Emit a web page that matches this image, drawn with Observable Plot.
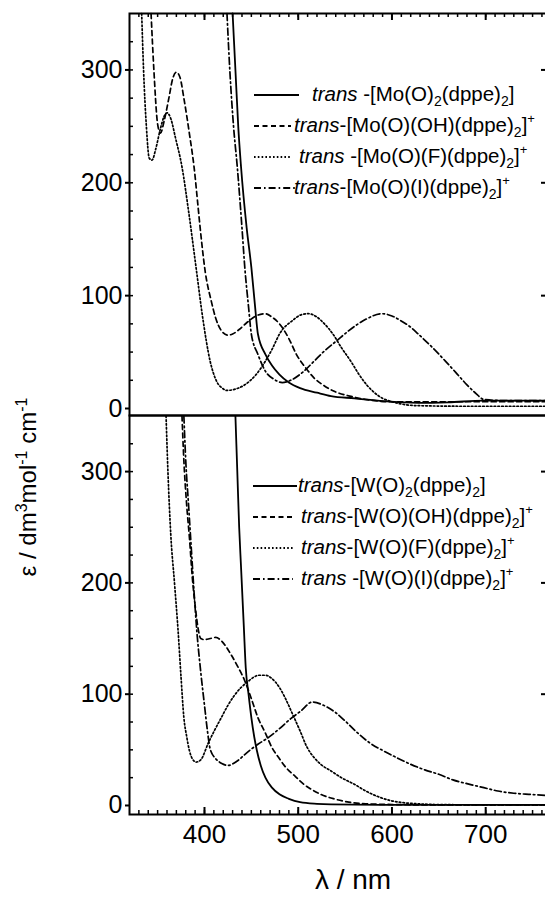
<!DOCTYPE html>
<html><head><meta charset="utf-8">
<script src="https://cdn.jsdelivr.net/npm/d3@7"></script>
<script src="https://cdn.jsdelivr.net/npm/@observablehq/plot@0.6"></script>
<style>
html,body{margin:0;padding:0;background:#fff;overflow:hidden;width:545px;height:901px}
#wrap{position:relative;width:545px;height:901px;overflow:hidden;font-family:Arial,"Liberation Sans",sans-serif;color:#000}
.leg{position:absolute;font-size:20.5px;line-height:22px;white-space:nowrap}
.leg sub{font-size:14px;vertical-align:-5px;line-height:0}
.leg sup{font-size:13px;vertical-align:9px;line-height:0}
.title{position:absolute;white-space:nowrap}
</style></head>
<body><div id="wrap"></div>
<script>
// wavelength (nm), epsilon
const moDioxo = [[430,350],[433,300],[436,250],[439,214],[445,160],[450,125],[454,90],[457,66],[465,48],[472,38],[480,30],[490,23],[502,18],[520,14],[535,11],[560,9],[591,6.5],[628,5],[660,5.5],[698,7],[730,7],[767,7]];
const moOH = [[343,350],[346,300],[350,252],[353,244],[357,255],[362,275],[366,292],[370,298],[374,293],[378,275],[384,243],[389,213],[393,180],[396,155],[401,120],[407,96],[412,80],[418,69],[425,65],[430,66],[437,70],[445,76],[455,82],[465,84],[472,81],[480,75],[490,62],[498,48],[508,36],[517,27],[528,20],[539,15],[555,11],[572,8],[600,6],[650,6],[700,6],[767,6]];
const moF = [[333,350],[335,300],[338,250],[341,222],[344,220],[348,230],[353,248],[357,259],[360,262],[364,257],[369,240],[376,214],[383,175],[391,125],[398,81],[406,42],[413,24],[419,18],[424,16],[432,17],[443,21],[455,30],[465,42],[473,54],[480,66],[494,78],[503,83],[511,84],[520,81],[528,75],[537,66],[546,54],[556,42],[565,30],[573,21],[580,15],[590,9],[598,6.5],[610,4],[628,2.5],[680,2],[767,2]];
const moI = [[424,350],[427,300],[431,250],[435,214],[440,160],[443,125],[447,90],[450,66],[457,48],[465,33],[474,26],[483,23],[492,25],[506,33],[517,42],[528,51],[541,60],[554,69],[572,79],[589,84],[600,82],[609,78],[620,72],[628,66],[642,55],[657,42],[668,32],[680,21],[690,13],[698,8],[720,7],[767,7]];

const wDioxo = [[433,350],[435,300],[437,250],[439,214],[442,160],[444,124],[447,100],[450,79],[453,62],[456,49],[460,36],[465,25],[472,16],[480,10],[490,6],[502,3],[520,1.5],[535,1],[600,0.5],[767,0.5]];
const wOH = [[376,350],[378,310],[381,270],[384,240],[387,205],[390,180],[393,160],[396,150],[400,149],[406,150],[412,151],[418,148],[428,136],[436,124],[443,112],[450,96],[457,79],[465,65],[472,52],[480,42],[487,34],[497,26],[506,19],[515,14],[524,10],[538,6],[554,3],[572,1.5],[591,1],[650,0.5],[767,0.5]];
const wF = [[359,350],[361,300],[364,244],[368,200],[372,155],[375,115],[378,79],[381,62],[384,49],[387,42],[391,39],[396,41],[404,56],[411,68],[418,79],[425,90],[432,99],[439,106],[446,111],[452,115],[458,117],[465,117],[472,114],[480,106],[487,95],[494,82],[502,67],[509,53],[517,43],[524,37],[535,31],[546,25],[560,19],[572,13],[585,8],[598,4.5],[612,2.5],[628,1.5],[660,0.7],[767,0.5]];
const wI = [[378,350],[380,310],[383,270],[386,230],[389,190],[392,155],[396,120],[400,90],[403,68],[406,51],[412,42],[418,38],[425,36],[435,40],[446,48],[457,55],[468,61],[480,69],[492,78],[503,85],[515,93],[527,90],[539,84],[550,76],[561,67],[575,57],[591,49],[605,43],[620,37],[635,32],[650,28],[665,23],[683,19],[698,16],[713,13],[730,11],[746,10],[767,9]];

const xTicks = [400, 500, 600, 700];
const xMinor = d3.range(330, 767, 10);
const yTicks = [0, 100, 200, 300];
const yMinor = d3.range(25, 350, 25);
const yRight = [100, 200, 300];

const moLabels = [
  '<i>trans</i> -[Mo(O)<sub>2</sub>(dppe)<sub>2</sub>]',
  '<i>trans</i>-[Mo(O)(OH)(dppe)<sub>2</sub>]<sup>+</sup>',
  '<i>trans</i> -[Mo(O)(F)(dppe)<sub>2</sub>]<sup>+</sup>',
  '<i>trans</i>-[Mo(O)(I)(dppe)<sub>2</sub>]<sup>+</sup>'
];
const wLabels = [
  '<i>trans</i>-[W(O)<sub>2</sub>(dppe)<sub>2</sub>]',
  '<i>trans</i>-[W(O)(OH)(dppe)<sub>2</sub>]<sup>+</sup>',
  '<i>trans</i>-[W(O)(F)(dppe)<sub>2</sub>]<sup>+</sup>',
  '<i>trans</i> -[W(O)(I)(dppe)<sub>2</sub>]<sup>+</sup>'
];
const dashes = [null, "5,3.5", "1.6,2.2", "7,3,1.6,3"];

const FONT = "Arial, 'Liberation Sans', sans-serif";
const W = 548, ML = 129;
const PW = W - ML;
const wrap = document.getElementById("wrap");

function lines(series) {
  return series.map((s, i) => Plot.line(s, {x: d => d[0], y: d => d[1], stroke: "#000",
    strokeWidth: i === 0 ? 1.8 : 1.7, strokeDasharray: dashes[i], curve: "monotone-x"}));
}

function panel(series, {height, top, marginTop, marginBottom, yDomain, bottomAxis}) {
  const PH = height - marginTop - marginBottom;
  const marks = [
    ...lines(series),
    Plot.axisY({ticks: yTicks, tickSize: 4, tickPadding: 3, label: null, fontSize: 25, strokeWidth: 2}),
    Plot.tickY(yMinor, {y: d => d, insetRight: PW - 4, stroke: "#000", strokeWidth: 1.5}),
    Plot.tickY(yRight, {y: d => d, insetLeft: PW - 7, stroke: "#000", strokeWidth: 2})
  ];
  if (bottomAxis) {
    marks.push(
      Plot.tickX(xMinor, {x: d => d, insetTop: PH - 4, stroke: "#000", strokeWidth: 1.5}),
      Plot.tickX(xTicks, {x: d => d, insetTop: PH - 7, stroke: "#000", strokeWidth: 2}),
      Plot.axisX({anchor: "bottom", ticks: xTicks, tickSize: 0, tickPadding: 10, label: null, fontSize: 26})
    );
  } else {
    marks.push(
      Plot.tickX(xMinor, {x: d => d, insetBottom: PH - 4, stroke: "#000", strokeWidth: 1.5}),
      Plot.tickX(xTicks, {x: d => d, insetBottom: PH - 7, stroke: "#000", strokeWidth: 2})
    );
  }
  marks.push(Plot.frame({stroke: "#000", strokeWidth: 2}));
  const svg = Plot.plot({
    width: W, height, marginLeft: ML, marginRight: 0, marginTop, marginBottom,
    x: {domain: [320, 767], axis: bottomAxis ? undefined : null},
    y: {domain: yDomain},
    style: {fontFamily: FONT, fontSize: "25px", color: "#000", background: "transparent", maxWidth: "none"},
    marks
  });
  svg.style.position = "absolute";
  svg.style.top = top + "px";
  svg.style.left = "0px";
  svg.style.maxWidth = "none";
  svg.style.width = W + "px";
  svg.style.height = height + "px";
  wrap.appendChild(svg);
}

panel([moDioxo, moOH, moF, moI], {height: 420, top: 0, marginTop: 13, marginBottom: 5, yDomain: [-6.2, 350], bottomAxis: false});
panel([wDioxo, wOH, wF, wI], {height: 501, top: 400, marginTop: 15, marginBottom: 87, yDomain: [-8.1, 350.4], bottomAxis: true});

// legends
function legend(labels, rows, lineX, textX) {
  const ns = "http://www.w3.org/2000/svg";
  const s = document.createElementNS(ns, "svg");
  s.setAttribute("width", 545); s.setAttribute("height", 901);
  s.style.position = "absolute"; s.style.left = "0"; s.style.top = "0";
  labels.forEach((lab, i) => {
    const l = document.createElementNS(ns, "line");
    l.setAttribute("x1", lineX[i][0]); l.setAttribute("x2", lineX[i][1]);
    l.setAttribute("y1", rows[i]); l.setAttribute("y2", rows[i]);
    l.setAttribute("stroke", "#000"); l.setAttribute("stroke-width", i === 0 ? 2 : 1.8);
    if (dashes[i]) l.setAttribute("stroke-dasharray", dashes[i]);
    s.appendChild(l);
    const d = document.createElement("div");
    d.className = "leg";
    d.innerHTML = lab;
    d.style.left = textX[i] + "px";
    d.style.top = (rows[i] - 12) + "px";
    wrap.appendChild(d);
  });
  wrap.appendChild(s);
}
legend(moLabels, [95, 126, 157, 188], [[254, 299], [254, 291], [254, 291], [254, 295]], [312, 294, 299, 294]);
legend(wLabels, [486, 517, 548, 579], [[253, 297], [253, 293], [253, 293], [253, 293]], [298, 301, 301, 301]);

// axis titles
const xt = document.createElement("div");
xt.className = "title";
xt.style.cssText += "font-size:28px;left:353px;top:864px;transform:translateX(-50%);";
xt.textContent = "λ / nm";
wrap.appendChild(xt);
const yt = document.createElement("div");
yt.className = "title";
yt.style.cssText += "font-size:24px;left:28px;top:487px;transform:translate(-50%,-50%) rotate(-90deg);";
yt.innerHTML = 'ε / dm<sup style="font-size:16px;vertical-align:9px;line-height:0">3</sup>mol<sup style="font-size:16px;vertical-align:9px;line-height:0">-1</sup> cm<sup style="font-size:16px;vertical-align:9px;line-height:0">-1</sup>';
wrap.appendChild(yt);
</script>
</body></html>
